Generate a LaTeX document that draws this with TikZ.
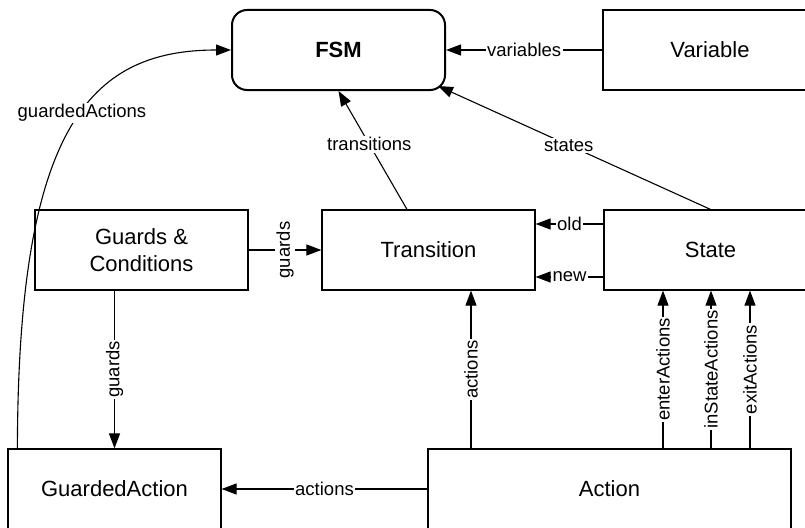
\documentclass[tikz,border=0pt]{standalone}
\usepackage{fontspec}
\setmainfont{Liberation Sans}
\usetikzlibrary{arrows.meta}
\tikzset{
  cls/.style={draw, line width=1.2pt, minimum width=213pt, minimum height=80pt,
    inner sep=0pt, font=\fontsize{22}{27}\selectfont, align=center},
  conn/.style={line width=1.1pt, -{Triangle[length=15pt,width=11pt]}},
  lbl/.style={fill=white, inner sep=1.5pt, font=\fontsize{18.5}{20}\selectfont},
  vlbl/.style={lbl, rotate=90},
}
\begin{document}
\begin{tikzpicture}[x=1pt,y=-1pt]
\useasboundingbox (0,0) rectangle (805,527);
\clip (0,0) rectangle (805,527);

% classes
\node[cls, line width=2pt, rounded corners=15pt,
      font=\bfseries\fontsize{22}{27}\selectfont] (fsm) at (338.5,50) {FSM};
\node[cls, minimum width=214pt] (var) at (710,50) {Variable};
\node[cls] (gc)  at (141.5,250) {Guards \&\\Conditions};
\node[cls] (tr)  at (428.5,250) {Transition};
\node[cls] (sta) at (710.5,250) {State};
\node[cls] (ga)  at (114.5,489) {GuardedAction};
\node[cls, minimum width=363pt] (act) at (609.5,489) {Action};

% attachment points
\coordinate (trTop)   at ([xshift=-21.5pt]tr.north);
\coordinate (fsmCorner) at ([xshift=-8pt,yshift=5pt]fsm.south east);
\coordinate (staOld)  at ([yshift=26pt]sta.west);
\coordinate (staNew)  at ([yshift=-27pt]sta.west);
\coordinate (gaTop)   at ([xshift=10pt]ga.north west);
\coordinate (actTr)   at ([xshift=-138.5pt]act.north);
\coordinate (actEnter) at ([xshift=53.5pt]act.north);
\coordinate (actIn)   at ([xshift=101.5pt]act.north);
\coordinate (actExit) at ([xshift=140.5pt]act.north);

% associations
\draw[conn] (var.west) -- node[lbl] {variables} (fsm.east);
\draw[conn] (trTop) -- node[lbl, pos=0.55] {transitions} (fsm.south);
\draw[conn] (sta.north) -- node[lbl, pos=0.52] {states} (fsmCorner);
\draw[conn] (gaTop) .. controls (18,130) and (88,50) ..
  node[lbl, pos=0.55] {guardedActions} (fsm.west);
\draw[conn] (gc.east) -- node[vlbl] {guards} (tr.west);
\draw[conn] (ga.north |- gc.south) -- node[vlbl] {guards} (ga.north);
\draw[conn] (staOld) -- node[lbl] {old} (staOld -| tr.east);
\draw[conn] (staNew) -- node[lbl] {new} (staNew -| tr.east);
\draw[conn] (act.west) -- node[lbl] {actions} (ga.east);
\draw[conn] (actTr) -- node[vlbl] {actions} (actTr |- tr.south);
\draw[conn] (actEnter) -- node[vlbl] {enterActions} (actEnter |- sta.south);
\draw[conn] (actIn) -- node[vlbl] {inStateActions} (actIn |- sta.south);
\draw[conn] (actExit) -- node[vlbl] {exitActions} (actExit |- sta.south);
\end{tikzpicture}
\end{document}
